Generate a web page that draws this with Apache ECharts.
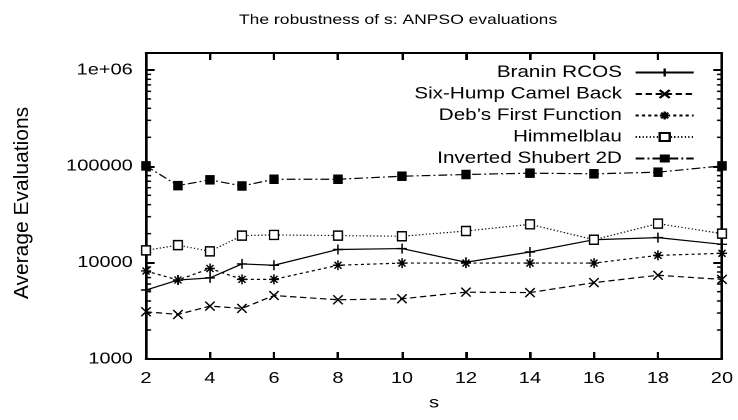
<!DOCTYPE html>
<html><head><meta charset="utf-8">
<script src="https://cdn.jsdelivr.net/npm/echarts@6/dist/echarts.min.js"></script>
<style>
html,body{margin:0;padding:0;background:#fff;overflow:hidden;}
#wrap{width:738px;height:420px;overflow:hidden;position:relative;}
#chart{width:590px;height:420px;transform:scale(1.2508,1);transform-origin:0 0;}
</style></head><body><div id="wrap"><div id="chart"></div></div>
<script>
// ---- data ----
const sValues = [2, 3, 4, 5, 6, 8, 10, 12, 14, 16, 18, 20];
const seriesNames = ['Branin RCOS', 'Six-Hump Camel Back', 'Deb\u2019s First Function', 'Himmelblau', 'Inverted Shubert 2D'];
const branin     = [5200, 6600, 6950, 9700, 9400, 13700, 14000, 10100, 12900, 17300, 18200, 15500];
const sixHump    = [3090, 2900, 3540, 3350, 4560, 4120, 4220, 4940, 4890, 6200, 7400, 6700];
const debs       = [8200, 6600, 8700, 6700, 6700, 9400, 9900, 9900, 9900, 9900, 11900, 12500];
const himmelblau = [13400, 15200, 13100, 19100, 19400, 19100, 18800, 21300, 25000, 17300, 25400, 20000];
const shubert    = [101000, 63000, 72400, 62500, 73400, 73400, 78900, 82200, 84900, 83600, 86900, 101000];
const xTickValues = [2, 4, 6, 8, 10, 12, 14, 16, 18, 20];
const yTickValues = [1000, 10000, 100000, 1000000];
const yTickLabels = ['1000', '10000', '100000', '1e+06'];
const titleText = 'The robustness of s: ANPSO evaluations';
const xName = 's';
const yName = 'Average Evaluations';

const FONT = 'Liberation Sans';
const STRETCH = 1.2508;
const yMin = 1000, yMax = 1500000;
const xMin = 2, xMax = 20;

const dom = document.getElementById('chart');
const chart = echarts.init(dom, null, {devicePixelRatio: 2});

function pairs(arr) { return sValues.map((s, i) => [s, arr[i]]); }

const PLUS = 'path://M0,5L10,5M5,0L5,10';
const CROSS = 'path://M0,0L10,10M10,0L0,10';
const STAR = 'path://M0,5L10,5M5,0L5,10M1.5,1.5L8.5,8.5M8.5,1.5L1.5,8.5';

const styles = [
  {symbol: PLUS, size: [8, 10], dash: 'solid', fill: '#000', bw: 1.3},
  {symbol: CROSS, size: [7.5, 9], dash: [5, 3], fill: '#000', bw: 1.3},
  {symbol: STAR, size: [8, 10], dash: [2.5, 2.5], fill: '#000', bw: 1.3},
  {symbol: 'rect', size: [7, 9], dash: [1, 1.8], fill: '#fff', bw: 1.3},
  {symbol: 'rect', size: [7.5, 9.5], dash: [7, 2.5, 1.5, 2.5], fill: '#000', bw: 0}
];
const dataArrays = [branin, sixHump, debs, himmelblau, shubert];

const series = seriesNames.map((name, i) => ({
  name: name,
  type: 'line',
  data: pairs(dataArrays[i]),
  symbol: styles[i].symbol,
  symbolSize: styles[i].size,
  showAllSymbol: true,
  color: '#000',
  lineStyle: {color: '#000', width: 1.2, type: styles[i].dash},
  itemStyle: {color: styles[i].fill, borderColor: '#000', borderWidth: styles[i].bw},
  emphasis: {disabled: true},
  animation: false,
  z: 2 + i
}));

const axisLineStyle = {show: true, lineStyle: {color: '#000', width: 2}};

const option = {
  animation: false,
  backgroundColor: '#fff',
  textStyle: {fontFamily: FONT},
  title: {
    text: titleText,
    left: 186, top: 8,
    textStyle: {fontFamily: FONT, fontSize: 14, fontWeight: 'normal', color: '#000'}
  },
  legend: {
    orient: 'vertical',
    right: 29.4, top: 59,
    align: 'right',
    itemWidth: 46.4, itemHeight: 10, itemGap: 4.5,
    selectedMode: false,
    textStyle: {fontFamily: FONT, fontSize: 16.5, color: '#000', padding: [0, 6, 0, 0]},
    data: seriesNames
  },
  grid: {left: 116.7, right: 12.8, top: 53, bottom: 61, containLabel: false},
  xAxis: [{
    type: 'value', min: xMin, max: xMax, interval: 2, position: 'bottom',
    name: xName, nameLocation: 'middle', nameGap: 36,
    nameTextStyle: {fontFamily: FONT, fontSize: 16, color: '#000'},
    axisLine: axisLineStyle,
    axisTick: {show: true, inside: true, length: 7, lineStyle: {color: '#000', width: 2}},
    axisLabel: {show: true, margin: 11.5, fontFamily: FONT, fontSize: 16, color: '#000',
      formatter: v => xTickValues.indexOf(v) >= 0 ? String(v) : ''},
    splitLine: {show: false}
  }, {
    type: 'value', min: xMin, max: xMax, interval: 2, position: 'top',
    axisLine: axisLineStyle,
    axisTick: {show: true, inside: true, length: 7, lineStyle: {color: '#000', width: 2}},
    axisLabel: {show: false}, splitLine: {show: false}
  }],
  yAxis: [{
    type: 'log', logBase: 10, min: yMin, max: yMax, position: 'left',
    axisLine: axisLineStyle,
    axisTick: {show: true, inside: true, length: 7, lineStyle: {color: '#000', width: 2}},
    axisLabel: {show: true, margin: 10.5, fontFamily: FONT, fontSize: 16, color: '#000', showMaxLabel: false,
      formatter: v => { const k = yTickValues.findIndex(t => Math.abs(t - v) / t < 1e-6); return k >= 0 ? yTickLabels[k] : ''; }},
    splitLine: {show: false}
  }, {
    type: 'log', logBase: 10, min: yMin, max: yMax, position: 'right',
    axisLine: axisLineStyle,
    axisTick: {show: true, inside: true, length: 7, lineStyle: {color: '#000', width: 2}},
    axisLabel: {show: false}, splitLine: {show: false}
  }],
  series: series
};
chart.setOption(option);

// gnuplot-style minor ticks (2..9 per decade) placed through the log axis scale
const xl = chart.convertToPixel({xAxisIndex: 0}, xMin);
const xr = chart.convertToPixel({xAxisIndex: 0}, xMax);
const yTop = chart.convertToPixel({yAxisIndex: 0}, yMax);
const yBot = chart.convertToPixel({yAxisIndex: 0}, yMin);
const g = [];
yTickValues.forEach(d => {
  for (let k = 2; k <= 9; k++) {
    const v = k * d;
    if (v > yMax) break;
    const py = chart.convertToPixel({yAxisIndex: 0}, v);
    g.push({type: 'line', shape: {x1: xl, y1: py, x2: xl + 4, y2: py}, style: {stroke: '#000', lineWidth: 1.5}, silent: true});
    g.push({type: 'line', shape: {x1: xr, y1: py, x2: xr - 4, y2: py}, style: {stroke: '#000', lineWidth: 1.5}, silent: true});
  }
});
// y-axis title, rotated, with the horizontal page stretch undone so it keeps normal proportions
g.push({
  type: 'text', x: 18, y: (yTop + yBot) / 2 - 3, rotation: Math.PI / 2, scaleY: 1 / STRETCH,
  style: {text: yName, font: '21px "' + FONT + '"', fill: '#000', textAlign: 'center', textVerticalAlign: 'middle'},
  silent: true
});
chart.setOption({graphic: g});
</script></body></html>
